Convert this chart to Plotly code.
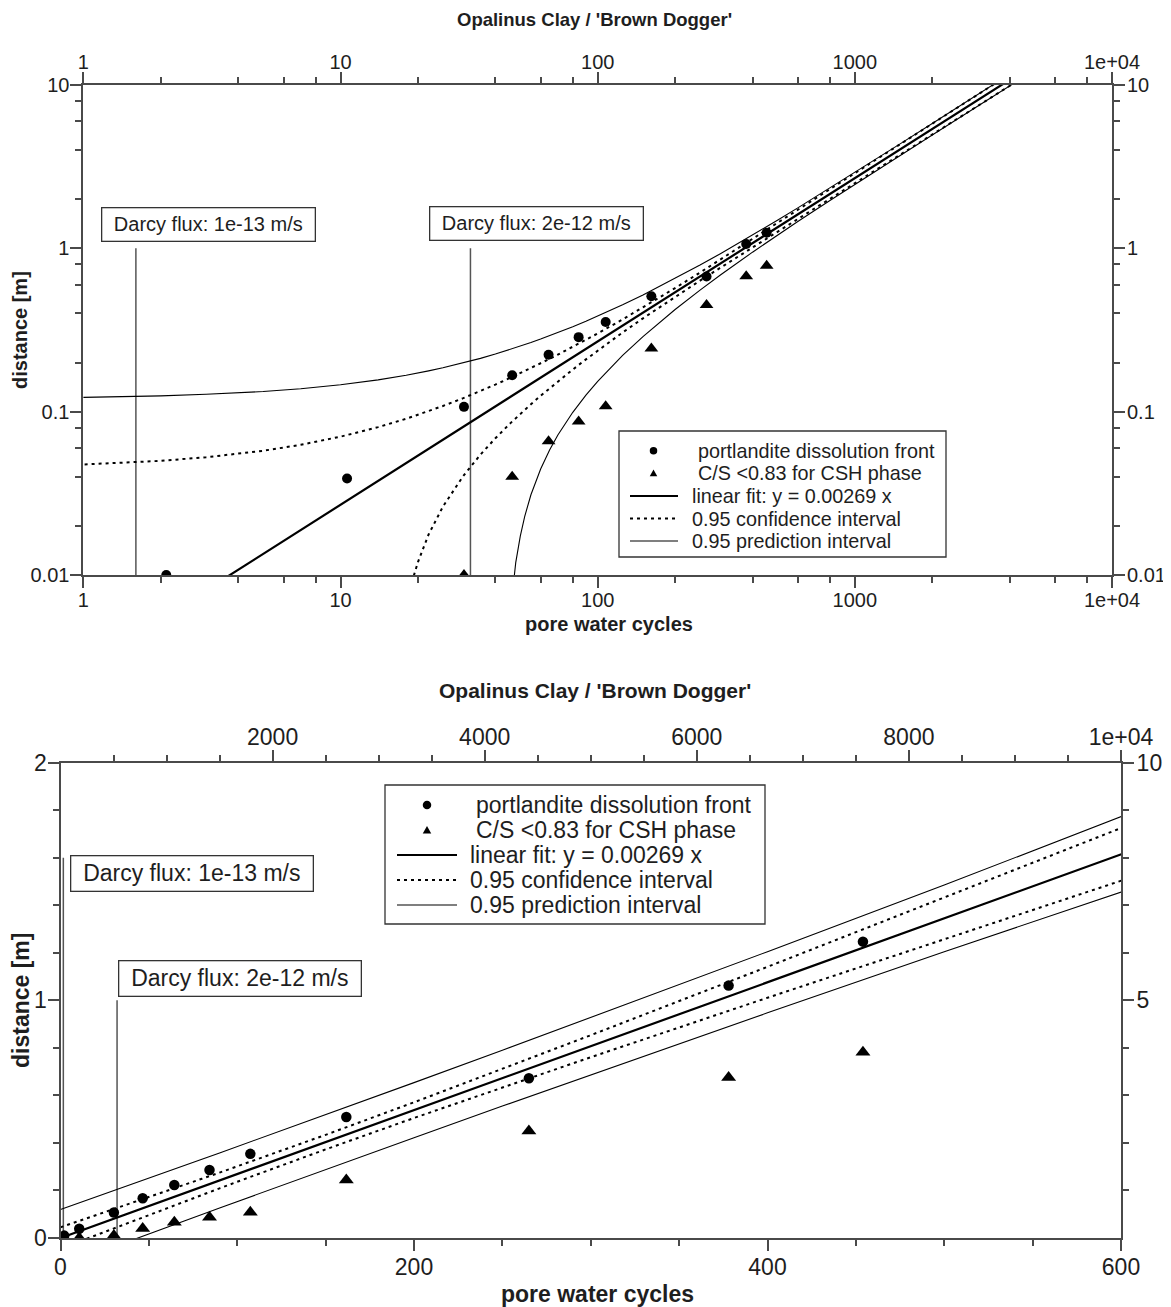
import math
import plotly.graph_objects as go

# page is rendered with the browser's default 8px body margin
OFF = 8
W, H = 1171 - OFF, 1307 - OFF
FONT = "Liberation Sans, Arial, sans-serif"
TXT = "#1e1e1e"
AXC = "#4a4a4a"

# ---------------- data ----------------
# measured points
PORT_X = [2.1, 10.6, 30.2, 46.5, 64.4, 84.3, 107.4, 161.7, 265, 378, 454]
PORT_Y = [0.01, 0.039, 0.107, 0.167, 0.223, 0.286, 0.354, 0.509, 0.672, 1.062, 1.247]
CS_X = [10.6, 30.2, 46.5, 64.4, 84.3, 107.4, 161.7, 265, 378, 454]
CS_Y = [0.0, 0.01, 0.04, 0.066, 0.087, 0.108, 0.244, 0.45, 0.675, 0.782]

# curves sampled along pore water cycles
CURVE_X = [0, 1, 2, 3, 5, 7, 10, 14, 18, 19, 20, 22, 25, 30, 35, 40, 46, 47, 48, 50,
           52, 55, 60, 65, 70, 80, 90, 100, 125, 150, 200, 250, 300, 400, 500, 600,
           800, 1000, 1500, 2000, 3000, 3500, 4000, 4500]
FIT_Y = [0, 0.00269, 0.00538, 0.00807, 0.01345, 0.01883, 0.0269, 0.03766, 0.04842, 0.05111,
         0.0538, 0.05918, 0.06725, 0.0807, 0.09415, 0.1076, 0.12374, 0.12643, 0.12912, 0.1345,
         0.13988, 0.14795, 0.1614, 0.17485, 0.1883, 0.2152, 0.2421, 0.269, 0.33625, 0.4035,
         0.538, 0.6725, 0.807, 1.076, 1.345, 1.614, 2.152, 2.69, 4.035, 5.38, 8.07, 9.415,
         10.76, 12.105]
CI_UP = [0.0450, 0.0475, 0.0500, 0.0526, 0.0576, 0.0627, 0.0703, 0.0804, 0.0905, 0.0931,
         0.0956, 0.1007, 0.1083, 0.1210, 0.1337, 0.1465, 0.1618, 0.1644, 0.1669, 0.1720,
         0.1771, 0.1848, 0.1977, 0.2105, 0.2234, 0.2493, 0.2752, 0.3013, 0.3672, 0.4341,
         0.5710, 0.7111, 0.8533, 1.1410, 1.4306, 1.7210, 2.3028, 2.8853, 4.3423, 5.7998,
         8.7153, 10.173, 11.631, 13.111]
CI_LO = [-0.0450, -0.0421, -0.0393, -0.0364, -0.0307, -0.0250, -0.0165, -0.0051, 0.0063, 0.0092,
         0.0120, 0.0177, 0.0262, 0.0404, 0.0546, 0.0687, 0.0857, 0.0885, 0.0913, 0.0970,
         0.1026, 0.1111, 0.1251, 0.1392, 0.1532, 0.1811, 0.2090, 0.2367, 0.3053, 0.3729,
         0.5050, 0.6339, 0.7607, 1.0110, 1.2594, 1.5070, 2.0012, 2.4947, 3.7277, 4.9602,
         7.4248, 8.657, 9.889, 11.099]
PI_UP = [0.1198, 0.1224, 0.1250, 0.1277, 0.1329, 0.1382, 0.1461, 0.1566, 0.1672, 0.1698,
         0.1724, 0.1777, 0.1856, 0.1988, 0.2120, 0.2252, 0.2411, 0.2437, 0.2464, 0.2517,
         0.2570, 0.2649, 0.2782, 0.2915, 0.3047, 0.3313, 0.3579, 0.3846, 0.4515, 0.5187,
         0.6538, 0.7900, 0.9273, 1.2047, 1.4852, 1.7682, 2.3393, 2.9146, 4.3617, 5.8142,
         8.7247, 10.181, 11.638, 13.117]
PI_LO = [-0.1198, -0.1170, -0.1143, -0.1115, -0.1060, -0.1005, -0.0923, -0.0813, -0.0703, -0.0676,
         -0.0648, -0.0593, -0.0511, -0.0374, -0.0237, -0.0100, 0.0064, 0.0091, 0.0119, 0.0173,
         0.0228, 0.0310, 0.0446, 0.0583, 0.0719, 0.0991, 0.1263, 0.1534, 0.2210, 0.2883,
         0.4222, 0.5550, 0.6867, 0.9474, 1.2048, 1.4598, 1.9647, 2.4654, 3.7083, 4.9458,
         7.4153, 8.649, 9.882, 11.093]

# Darcy flux marker lines (pore water cycles) and their upper ends
DARCY_X = [1.6, 32.0]
DARCY_LABELS = ["Darcy flux: 1e-13 m/s", "Darcy flux: 2e-12 m/s"]
DARCY_TOP_LOG = [1.0, 1.0]
DARCY_TOP_LIN = [1.6, 1.0]

LEGEND_LABELS = ["portlandite dissolution front", "C/S <0.83 for CSH phase",
                 "linear fit: y = 0.00269 x", "0.95 confidence interval",
                 "0.95 prediction interval"]

TITLE = "Opalinus Clay / 'Brown Dogger'"
XTITLE = "pore water cycles"
YTITLE = "distance [m]"

# tick labels
LOG_X_TICKS = [1, 10, 100, 1000, 10000]
LOG_X_TEXT = ["1", "10", "100", "1000", "1e+04"]
LOG_Y_TICKS = [0.01, 0.1, 1, 10]
LOG_Y_TEXT = ["0.01", "0.1", "1", "10"]
LIN_X_TICKS = [0, 200, 400, 600]
LIN_Y_TICKS = [0, 1, 2]
TOP2_TICKS = [2000, 4000, 6000, 8000, 10000]
TOP2_TEXT = ["2000", "4000", "6000", "8000", "1e+04"]
RIGHT2_TICKS = [5, 10]

# ---------------- styles ----------------
ST_FIT = dict(color="black", width=2.2)
ST_CI = dict(color="black", width=2, dash="3px,4px")
ST_PI = dict(color="black", width=1.1)
ST_DARCY = dict(color="#555555", width=1.5)

fig = go.Figure()

LOG_MINOR_X = [m * 10 ** e for e in range(0, 4) for m in (2, 4, 6, 8)]
LOG_MINOR_Y = [m * 10 ** e for e in range(-2, 1) for m in (2, 4, 6, 8)]


def add_series(xa, ya, log, msize_c, msize_t):
    if log:
        ybot = 10 ** -2
        tops = DARCY_TOP_LOG
    else:
        ybot = 0
        tops = DARCY_TOP_LIN
    dx, dy = [], []
    for x, t in zip(DARCY_X, tops):
        dx += [x, x, None]
        dy += [ybot, t, None]
    fig.add_trace(go.Scatter(x=dx, y=dy, mode="lines", line=ST_DARCY, xaxis=xa, yaxis=ya,
                             showlegend=False, hoverinfo="skip"))
    for ys in (PI_UP, PI_LO):
        fig.add_trace(go.Scatter(x=CURVE_X, y=ys, mode="lines", line=ST_PI, xaxis=xa, yaxis=ya,
                                 showlegend=False, name=LEGEND_LABELS[4]))
    for ys in (CI_UP, CI_LO):
        fig.add_trace(go.Scatter(x=CURVE_X, y=ys, mode="lines", line=ST_CI, xaxis=xa, yaxis=ya,
                                 showlegend=False, name=LEGEND_LABELS[3]))
    fig.add_trace(go.Scatter(x=CURVE_X, y=FIT_Y, mode="lines", line=ST_FIT, xaxis=xa, yaxis=ya,
                             showlegend=False, name=LEGEND_LABELS[2]))
    fig.add_trace(go.Scatter(x=PORT_X, y=PORT_Y, mode="markers", xaxis=xa, yaxis=ya,
                             marker=dict(symbol="circle", size=msize_c, color="black"),
                             showlegend=False, name=LEGEND_LABELS[0]))
    fig.add_trace(go.Scatter(x=CS_X, y=CS_Y, mode="markers", xaxis=xa, yaxis=ya,
                             marker=dict(symbol="triangle-up", size=msize_t, color="black"),
                             showlegend=False, name=LEGEND_LABELS[1]))


add_series("x", "y", True, 10, 12)
add_series("x2", "y2", False, 10.5, 13)
# empty traces so that the secondary axes get drawn
for xa, ya in (("x3", "y"), ("x", "y3"), ("x4", "y2"), ("x2", "y4")):
    fig.add_trace(go.Scatter(x=[], y=[], xaxis=xa, yaxis=ya, showlegend=False, hoverinfo="skip"))


def axis(size, standoff, **kw):
    d = dict(showline=True, linecolor=AXC, linewidth=2, ticks="outside", ticklen=11,
             tickwidth=1.5, tickcolor=AXC, showgrid=False, zeroline=False, automargin=False,
             tickfont=dict(size=size, color=TXT, family=FONT), tickmode="array",
             ticklabelstandoff=standoff)
    d.update(kw)
    return d


def minor(vals):
    return dict(tickvals=vals, ticks="outside", ticklen=6, tickwidth=1.5, tickcolor=AXC,
                showgrid=False)


def dx(px):
    return (px - OFF) / W


def dy(py):
    return 1 - (py - OFF) / H


TOPX = [dx(83.4), dx(1112)]
TOPY = [dy(575), dy(85)]
BOTX = [dx(60.5), dx(1121)]
BOTY = [dy(1238), dy(762.7)]

fig.update_layout(
    xaxis=axis(20, -5, domain=TOPX, anchor="y", type="log", range=[0, 4], side="bottom",
               tickvals=LOG_X_TICKS, ticktext=LOG_X_TEXT, minor=minor(LOG_MINOR_X)),
    yaxis=axis(20, -3, domain=TOPY, anchor="x", type="log", range=[-2, 1],
               tickvals=LOG_Y_TICKS, ticktext=LOG_Y_TEXT, minor=minor(LOG_MINOR_Y)),
    xaxis3=axis(20, -5, overlaying="x", anchor="y", type="log", range=[0, 4], side="top",
                tickvals=LOG_X_TICKS, ticktext=LOG_X_TEXT, minor=minor(LOG_MINOR_X)),
    yaxis3=axis(20, -2, overlaying="y", anchor="x", type="log", range=[-2, 1], side="right",
                tickvals=LOG_Y_TICKS, ticktext=LOG_Y_TEXT, minor=minor(LOG_MINOR_Y)),
    xaxis2=axis(23, -4, domain=BOTX, anchor="y2", range=[0, 600], side="bottom",
                tickvals=LIN_X_TICKS, ticktext=[str(v) for v in LIN_X_TICKS],
                minor=minor([v for v in range(50, 600, 50) if v % 200])),
    yaxis2=axis(23, -4, domain=BOTY, anchor="x2", range=[0, 2],
                tickvals=LIN_Y_TICKS, ticktext=[str(v) for v in LIN_Y_TICKS],
                minor=minor([0.2, 0.4, 0.6, 0.8, 1.2, 1.4, 1.6, 1.8])),
    xaxis4=axis(23, -4, overlaying="x2", anchor="y2", range=[0, 10000], side="top",
                tickvals=TOP2_TICKS, ticktext=TOP2_TEXT,
                minor=minor([v for v in range(500, 10000, 500) if v % 2000])),
    yaxis4=axis(23, -2, overlaying="y2", anchor="x2", range=[0, 10], side="right",
                tickvals=RIGHT2_TICKS, ticktext=[str(v) for v in RIGHT2_TICKS],
                minor=minor([1, 2, 3, 4, 6, 7, 8, 9])),
    width=W, height=H, margin=dict(l=0, r=0, t=0, b=0),
    paper_bgcolor="white", plot_bgcolor="white", showlegend=False,
    font=dict(family=FONT, color=TXT),
)

annotations = []
shapes = []


def pp(x, y):
    return dx(x), dy(y)


def text_ann(x, y, text, size, angle=0):
    px, py = pp(x, y)
    annotations.append(dict(x=px, y=py, xref="paper", yref="paper", text=text, showarrow=False,
                            xanchor="center", yanchor="middle", textangle=angle,
                            font=dict(size=size, color=TXT, family=FONT)))


# titles
text_ann(594, 19, "<b>%s</b>" % TITLE, 18.5)
text_ann(609, 624, "<b>%s</b>" % XTITLE, 20)
text_ann(20, 330, "<b>%s</b>" % YTITLE, 20, -90)
text_ann(594.6, 690, "<b>%s</b>" % TITLE, 21)
text_ann(597.6, 1294, "<b>%s</b>" % XTITLE, 23)
text_ann(21, 1001, "<b>%s</b>" % YTITLE, 23, -90)

# Darcy flux boxes (placed in data coordinates)
DARCY_BOX_TOP = [(0.4864, 0.146), (1.7636, 0.149)]   # log10 positions on log axes
DARCY_BOX_BOT = [(74.4, 1.535), (101.3, 1.093)]
for (bx, by), lab in zip(DARCY_BOX_TOP, DARCY_LABELS):
    annotations.append(dict(x=bx, y=by, xref="x", yref="y", text=lab, showarrow=False,
                            xanchor="center", yanchor="middle", width=212, height=32,
                            bordercolor="#333", borderwidth=1.3, borderpad=0, bgcolor="white",
                            font=dict(size=20, color=TXT, family=FONT)))
for (bx, by), lab in zip(DARCY_BOX_BOT, DARCY_LABELS):
    annotations.append(dict(x=bx, y=by, xref="x2", yref="y2", text=lab, showarrow=False,
                            xanchor="center", yanchor="middle", width=241, height=34,
                            bordercolor="#333", borderwidth=1.3, borderpad=0, bgcolor="white",
                            font=dict(size=23, color=TXT, family=FONT)))


def draw_legend(box, rows, mx, lx0, lx1, tx_m, tx_l, fsize, msz):
    x0, y0 = pp(box[0], box[1])
    x1, y1 = pp(box[2], box[3])
    shapes.append(dict(type="rect", xref="paper", yref="paper", x0=x0, y0=y1, x1=x1, y1=y0,
                       line=dict(color="#333", width=1.3), fillcolor="white", layer="above"))
    r = msz / 2
    # circle
    cx0, cy0 = pp(mx - r, rows[0] - r)
    cx1, cy1 = pp(mx + r, rows[0] + r)
    shapes.append(dict(type="circle", xref="paper", yref="paper", x0=cx0, y0=cy1, x1=cx1, y1=cy0,
                       fillcolor="black", line=dict(width=0), layer="above"))
    # triangle
    a = pp(mx - r, rows[1] + r * 0.85)
    b = pp(mx + r, rows[1] + r * 0.85)
    c = pp(mx, rows[1] - r * 0.95)
    shapes.append(dict(type="path", xref="paper", yref="paper",
                       path="M %f,%f L %f,%f L %f,%f Z" % (a[0], a[1], b[0], b[1], c[0], c[1]),
                       fillcolor="black", line=dict(width=0), layer="above"))
    for st, ry in zip((ST_FIT, ST_CI, ST_PI), rows[2:]):
        p0 = pp(lx0, ry)
        p1 = pp(lx1, ry)
        shapes.append(dict(type="line", xref="paper", yref="paper", x0=p0[0], y0=p0[1],
                           x1=p1[0], y1=p1[1], line=st, layer="above"))
    for i, (lab, ry) in enumerate(zip(LEGEND_LABELS, rows)):
        tx = tx_m if i < 2 else tx_l
        px, py = pp(tx, ry)
        annotations.append(dict(x=px, y=py, xref="paper", yref="paper", text=lab,
                                showarrow=False, xanchor="left", yanchor="middle",
                                borderpad=0, font=dict(size=fsize, color=TXT, family=FONT)))


draw_legend((619, 431, 946, 557), [450.7, 473, 496, 518.5, 541], 653.5, 630, 678,
            696.5, 690.5, 19.8, 7.5)
draw_legend((385, 785, 765, 924), [805, 830, 855, 880, 905], 427, 397, 457,
            475, 469, 23, 8.5)

fig.update_layout(annotations=annotations, shapes=shapes)
fig.write_html("out.html")
